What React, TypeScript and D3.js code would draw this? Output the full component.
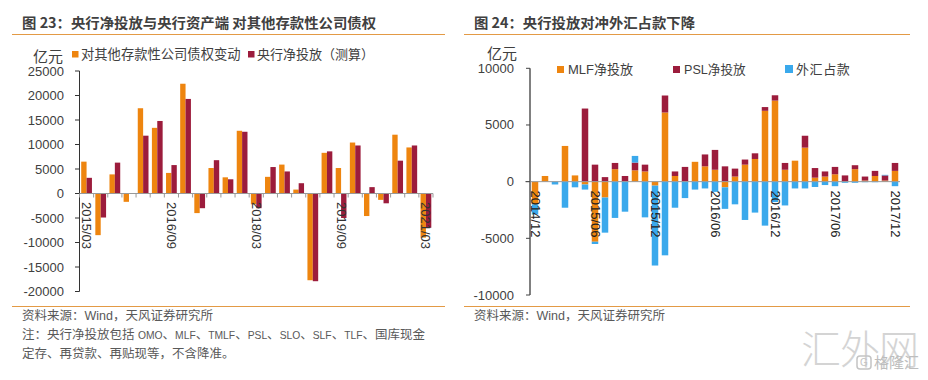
import React from "react";
import * as d3 from "d3";

const leftQuarters = ["2015/03","2015/06","2015/09","2015/12","2016/03","2016/06","2016/09","2016/12","2017/03","2017/06","2017/09","2017/12","2018/03","2018/06","2018/09","2018/12","2019/03","2019/06","2019/09","2019/12","2020/03","2020/06","2020/09","2020/12","2021/03"];
const claimsChange = [6500,-8500,3900,-1700,17400,13400,4200,22400,-4000,5200,3300,12800,-2200,3400,5900,800,-17700,8300,5200,10400,-4600,-1300,12000,9400,-9000];
const netInjection = [3200,-4900,6300,-100,11800,14800,5800,19300,-3000,6800,2900,12600,-3000,5400,4500,2100,-17900,8600,-5000,9800,1300,-2000,6700,9800,-7000];
const leftTickLabels = ["2015/03","2016/09","2018/03","2019/09","2021/03"];
const leftYTicks = [25000,20000,15000,10000,5000,0,-5000,-10000,-15000,-20000];

const rightMonths = ["2014/12","2015/01","2015/02","2015/03","2015/04","2015/05","2015/06","2015/07","2015/08","2015/09","2015/10","2015/11","2015/12","2016/01","2016/02","2016/03","2016/04","2016/05","2016/06","2016/07","2016/08","2016/09","2016/10","2016/11","2016/12","2017/01","2017/02","2017/03","2017/04","2017/05","2017/06","2017/07","2017/08","2017/09","2017/10","2017/11","2017/12"];
const mlf = [-2000,500,0,3150,550,-250,-5300,-1400,1100,0,1000,900,-350,6100,500,0,1750,1350,1050,-500,450,1500,2000,6250,7150,1050,1850,3000,350,450,650,0,1100,100,500,100,950];
const psl = [0,0,0,0,0,6450,1500,400,550,500,680,600,0,1500,400,1300,0,1050,1750,1350,700,450,500,330,470,600,0,1050,850,450,650,550,350,350,450,450,700];
const fx = [-900,0,-250,-2300,-500,-450,-200,-3100,-3200,-2650,590,-3150,-7050,-6500,-2300,-1450,-700,-600,-900,-1900,-2000,-3380,-2730,-3880,-1800,-2100,-600,-600,-470,-300,-400,-100,-100,-50,-50,50,-400];
const rightTickLabels = ["2014/12","2015/06","2015/12","2016/06","2016/12","2017/06","2017/12"];
const rightYTicks = [10000,5000,0,-5000,-10000];

const ORANGE = "#EE850F";
const RED = "#9C1C3C";
const BLUE = "#3AA9EC";
const RULE = "#E39A45";
const LATIN = "'Liberation Sans', Arial, sans-serif";
const CJK = "'Liberation Sans', 'Noto Sans CJK SC', sans-serif";

const yL = d3.scaleLinear().domain([-20000, 25000]).range([291.5, 71]);
const xL = d3.scaleBand<string>().domain(leftQuarters).range([79.5, 433]).paddingInner(0.24).paddingOuter(0.12);
const xLOuter = d3.scaleBand<string>().domain(leftQuarters).range([79.5, 433]);

const yR = d3.scaleLinear().domain([-10000, 10000]).range([295, 68.3]);
const xR = d3.scaleBand<string>().domain(rightMonths).range([530, 900]).paddingInner(0.35).paddingOuter(0.175);

type Seg = { key: string; y0: number; y1: number; color: string };
function stackMonth(i: number): Seg[] {
  let pos = 0;
  let neg = 0;
  const out: Seg[] = [];
  ([["mlf", mlf[i], ORANGE], ["psl", psl[i], RED], ["fx", fx[i], BLUE]] as [string, number, string][]).forEach(([key, v, color]) => {
    if (v === 0) return;
    if (v > 0) {
      out.push({ key, y0: pos, y1: pos + v, color });
      pos += v;
    } else {
      out.push({ key, y0: neg, y1: neg + v, color });
      neg += v;
    }
  });
  return out;
}

function Rotated({ x, y, text, fill }: { x: number; y: number; text: string; fill: string }) {
  return (
    <text transform={`translate(${x},${y}) rotate(90)`} fontFamily={LATIN} fontSize={13} fill={fill} dominantBaseline="central">
      {text}
    </text>
  );
}

export default function App() {
  const barW = xL.bandwidth() / 2;
  return (
    <svg width={928} height={380} style={{ position: "absolute", left: 0, top: 0, background: "#fff" }}>
      {/* headers */}
      <text x={22} y={28} fontFamily="'Noto Sans CJK SC', sans-serif" fontWeight={700} fontSize={14} fill="#404040" textLength={354} lengthAdjust="spacingAndGlyphs">图 23：央行净投放与央行资产端 对其他存款性公司债权</text>
      <line x1={12} x2={445} y1={34.5} y2={34.5} stroke={RULE} />
      <text x={474} y={28} fontFamily="'Noto Sans CJK SC', sans-serif" fontWeight={700} fontSize={14} fill="#404040" textLength={221} lengthAdjust="spacingAndGlyphs">图 24：央行投放对冲外汇占款下降</text>
      <line x1={464} x2={910} y1={34.5} y2={34.5} stroke={RULE} />
      <line x1={12} x2={445} y1={306.5} y2={306.5} stroke={RULE} />
      <line x1={464} x2={910} y1={306.5} y2={306.5} stroke={RULE} />

      {/* left legend */}
      <text x={33} y={62} fontFamily="'Noto Sans CJK SC', sans-serif" fontSize={15} fill="#404040">亿元</text>
      <rect x={72} y={51} width={6.5} height={6.5} fill={ORANGE} />
      <text x={81} y={59} fontFamily="'Noto Sans CJK SC', sans-serif" fontSize={13.3} fill="#404040">对其他存款性公司债权变动</text>
      <rect x={248} y={51} width={6.5} height={6.5} fill={RED} />
      <text x={257} y={59} fontFamily="'Noto Sans CJK SC', sans-serif" fontSize={13} fill="#404040">央行净投放（测算）</text>

      {/* left y axis */}
      {leftYTicks.map((t) => (
        <g key={t}>
          <line x1={75} x2={79.5} y1={yL(t)} y2={yL(t)} stroke="#333" />
          <text x={64} y={yL(t)} textAnchor="end" dominantBaseline="central" fontFamily={LATIN} fontSize={13} fill="#404040">{t}</text>
        </g>
      ))}

      {/* left bars */}
      {leftQuarters.map((q, i) => {
        const x0 = xL(q)!;
        return (
          <g key={q}>
            <rect x={x0} width={barW} y={Math.min(yL(0), yL(claimsChange[i]))} height={Math.abs(yL(claimsChange[i]) - yL(0))} fill={ORANGE} />
            <rect x={x0 + barW} width={barW} y={Math.min(yL(0), yL(netInjection[i]))} height={Math.abs(yL(netInjection[i]) - yL(0))} fill={RED} />
          </g>
        );
      })}
      <line x1={79.5} x2={79.5} y1={yL(25000)} y2={yL(-20000)} stroke="#333" />
      <line x1={79.5} x2={433} y1={yL(0)} y2={yL(0)} stroke="#999" />
      {[...leftQuarters.map((q) => xLOuter(q)!), 433].map((x) => (
        <line key={x} x1={x} x2={x} y1={yL(0)} y2={yL(0) + 4} stroke="#999" />
      ))}
      {leftTickLabels.map((t) => (
        <Rotated key={t} x={xLOuter(t)! + xLOuter.bandwidth() / 2} y={202} text={t} fill="#333" />
      ))}

      {/* right legend */}
      <text x={487} y={59} fontFamily="'Noto Sans CJK SC', sans-serif" fontSize={15} fill="#404040">亿元</text>
      <rect x={557} y={66} width={7} height={7} fill={ORANGE} />
      <text x={568} y={73.5} fontFamily={CJK} fontSize={13} fill="#404040">MLF净投放</text>
      <rect x={673} y={66} width={7} height={7} fill={RED} />
      <text x={684} y={73.5} fontFamily={CJK} fontSize={12.6} fill="#404040">PSL净投放</text>
      <rect x={785} y={65} width={8} height={8} fill={BLUE} />
      <text x={796} y={73.5} fontFamily={CJK} fontSize={13} letterSpacing={0.6} fill="#404040">外汇占款</text>

      {/* right bars */}
      {rightMonths.map((m, i) =>
        stackMonth(i).map((s) => (
          <rect key={m + s.key} x={xR(m)!} width={xR.bandwidth()} y={Math.min(yR(s.y0), yR(s.y1))} height={Math.abs(yR(s.y1) - yR(s.y0))} fill={s.color} />
        ))
      )}
      <line x1={525} x2={900} y1={yR(0)} y2={yR(0)} stroke="#999" />
      <line x1={530} x2={530} y1={yR(10000)} y2={yR(-10000)} stroke="#808080" strokeWidth={2} />
      {rightYTicks.map((t) => (
        <g key={t}>
          <line x1={526} x2={530} y1={yR(t)} y2={yR(t)} stroke="#444" />
          <text x={514} y={yR(t)} textAnchor="end" dominantBaseline="central" fontFamily={LATIN} fontSize={13} fill="#404040">{t}</text>
        </g>
      ))}
      {rightTickLabels.map((t) => (
        <Rotated key={t} x={xR(t)! + xR.bandwidth() / 2} y={190.5} text={t} fill="#222" />
      ))}

      {/* footers */}
      <g fontFamily={CJK} fontSize={12.5} fill="#595959">
        <text x={22} y={320}>资料来源：Wind，天风证券研究所</text>
        <text x={22} y={339}>注：央行净投放包括 <tspan fontSize={10.3}>OMO</tspan>、<tspan fontSize={10.3}>MLF</tspan>、<tspan fontSize={10.3}>TMLF</tspan>、<tspan fontSize={10.3}>PSL</tspan>、<tspan fontSize={10.3}>SLO</tspan>、<tspan fontSize={10.3}>SLF</tspan>、<tspan fontSize={10.3}>TLF</tspan>、国库现金</text>
        <text x={22} y={358}>定存、再贷款、再贴现等，不含降准。</text>
        <text x={474} y={320}>资料来源：Wind，天风证券研究所</text>
      </g>

      {/* watermark */}
      <text x={801} y={364} fontFamily="'Noto Sans CJK SC', sans-serif" fontWeight={300} fontSize={40} fill="#d4d4d4" textLength={118}>汇外网</text>
      <rect x={857} y={356} width={14} height={13} rx={3} fill="none" stroke="#c4c4c4" strokeWidth={1.5} />
      <text x={864} y={366} textAnchor="middle" fontFamily={LATIN} fontSize={10} fill="#c4c4c4">G</text>
      <text x={874} y={368} fontFamily="'Noto Sans CJK SC', sans-serif" fontSize={15} fill="#bdbdbd">格隆汇</text>
    </svg>
  );
}
